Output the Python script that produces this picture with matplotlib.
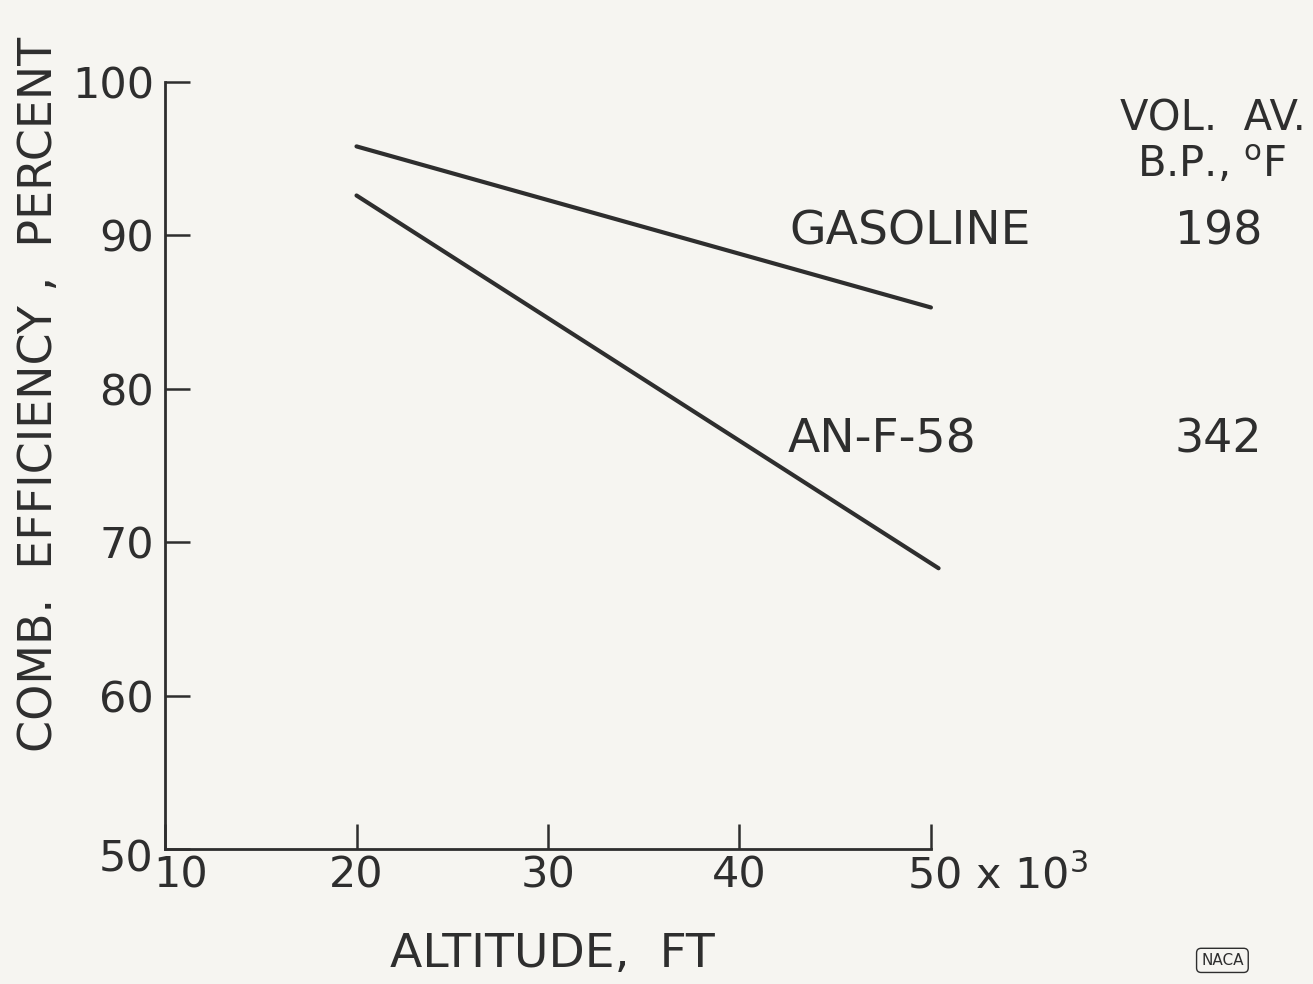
import matplotlib
matplotlib.use('Agg')
import matplotlib.pyplot as plt
import matplotlib.transforms as mtransforms

# values
altitude_gasoline = [20, 50]
eff_gasoline = [95.8, 85.3]
altitude_anf58 = [20, 50.4]
eff_anf58 = [92.6, 68.3]

fuels = ['GASOLINE', 'AN-F-58']
boiling_points = ['198', '342']

x_ticks = [10, 20, 30, 40, 50]
x_labels = ['10', '20', '30', '40', '50 x 10$^3$']
y_ticks = [50, 60, 70, 80, 90, 100]

ink = '#2e2e2e'
paper = '#f6f5f1'

plt.rcParams['font.family'] = ['DejaVu Sans']
plt.rcParams['mathtext.default'] = 'regular'

fig = plt.figure(figsize=(13.13, 9.84), dpi=100, facecolor=paper)
ax = fig.add_axes([0.1257, 0.1372, 0.5833, 0.7795])
ax.set_facecolor(paper)

ax.plot(altitude_gasoline, eff_gasoline, color=ink, lw=3, solid_capstyle='round', clip_on=False)
ax.plot(altitude_anf58, eff_anf58, color=ink, lw=3, solid_capstyle='round', clip_on=False)

ax.set_xlim(10, 50)
ax.set_ylim(50, 100)
for side in ['top', 'right']:
    ax.spines[side].set_visible(False)
for side in ['left', 'bottom']:
    ax.spines[side].set_color(ink)
    ax.spines[side].set_linewidth(2)

ax.set_xticks(x_ticks)
ax.set_xticklabels(x_labels)
ax.set_yticks(y_ticks)
ax.tick_params(direction='in', length=18, width=1.8, color=ink, labelcolor=ink,
               labelsize=31, pad=8)
ax.tick_params(axis='x', pad=4)

# "10" label sits right of the corner, last label runs off to the right
xl = ax.get_xticklabels()
xl[0].set_transform(xl[0].get_transform() + mtransforms.ScaledTranslation(0.16, 0, fig.dpi_scale_trans))
xl[-1].set_horizontalalignment('left')
xl[-1].set_transform(xl[-1].get_transform() + mtransforms.ScaledTranslation(-0.24, 0, fig.dpi_scale_trans))
yl = ax.get_yticklabels()
yl[0].set_transform(yl[0].get_transform() + mtransforms.ScaledTranslation(0, -0.06, fig.dpi_scale_trans))

ax.set_xlabel('ALTITUDE,  FT', fontsize=34, color=ink)
ax.xaxis.set_label_coords(0.506, -0.108)
ax.set_ylabel('COMB.  EFFICIENCY ,  PERCENT', fontsize=33, color=ink)
ax.yaxis.set_label_coords(-0.134, 0.592)

# fuel names and boiling points
fig.text(0.924, 0.880, 'VOL.  AV.', fontsize=30, color=ink, ha='center', va='center')
fig.text(0.923, 0.832, 'B.P., $^o$F', fontsize=30, color=ink, ha='center', va='center')
fuel_y = [0.764, 0.553]
fuel_x = [0.693, 0.672]
for name, bp, fx, fy in zip(fuels, boiling_points, fuel_x, fuel_y):
    fig.text(fx, fy, name, fontsize=34, color=ink, ha='center', va='center')
    fig.text(0.928, fy, bp, fontsize=33, color=ink, ha='center', va='center')

fig.text(0.931, 0.024, 'NACA', fontsize=11, color=ink, ha='center', va='center',
         bbox=dict(boxstyle='round,pad=0.3', fc=paper, ec=ink, lw=1))

fig.savefig('out.png', dpi=100, facecolor=paper)
